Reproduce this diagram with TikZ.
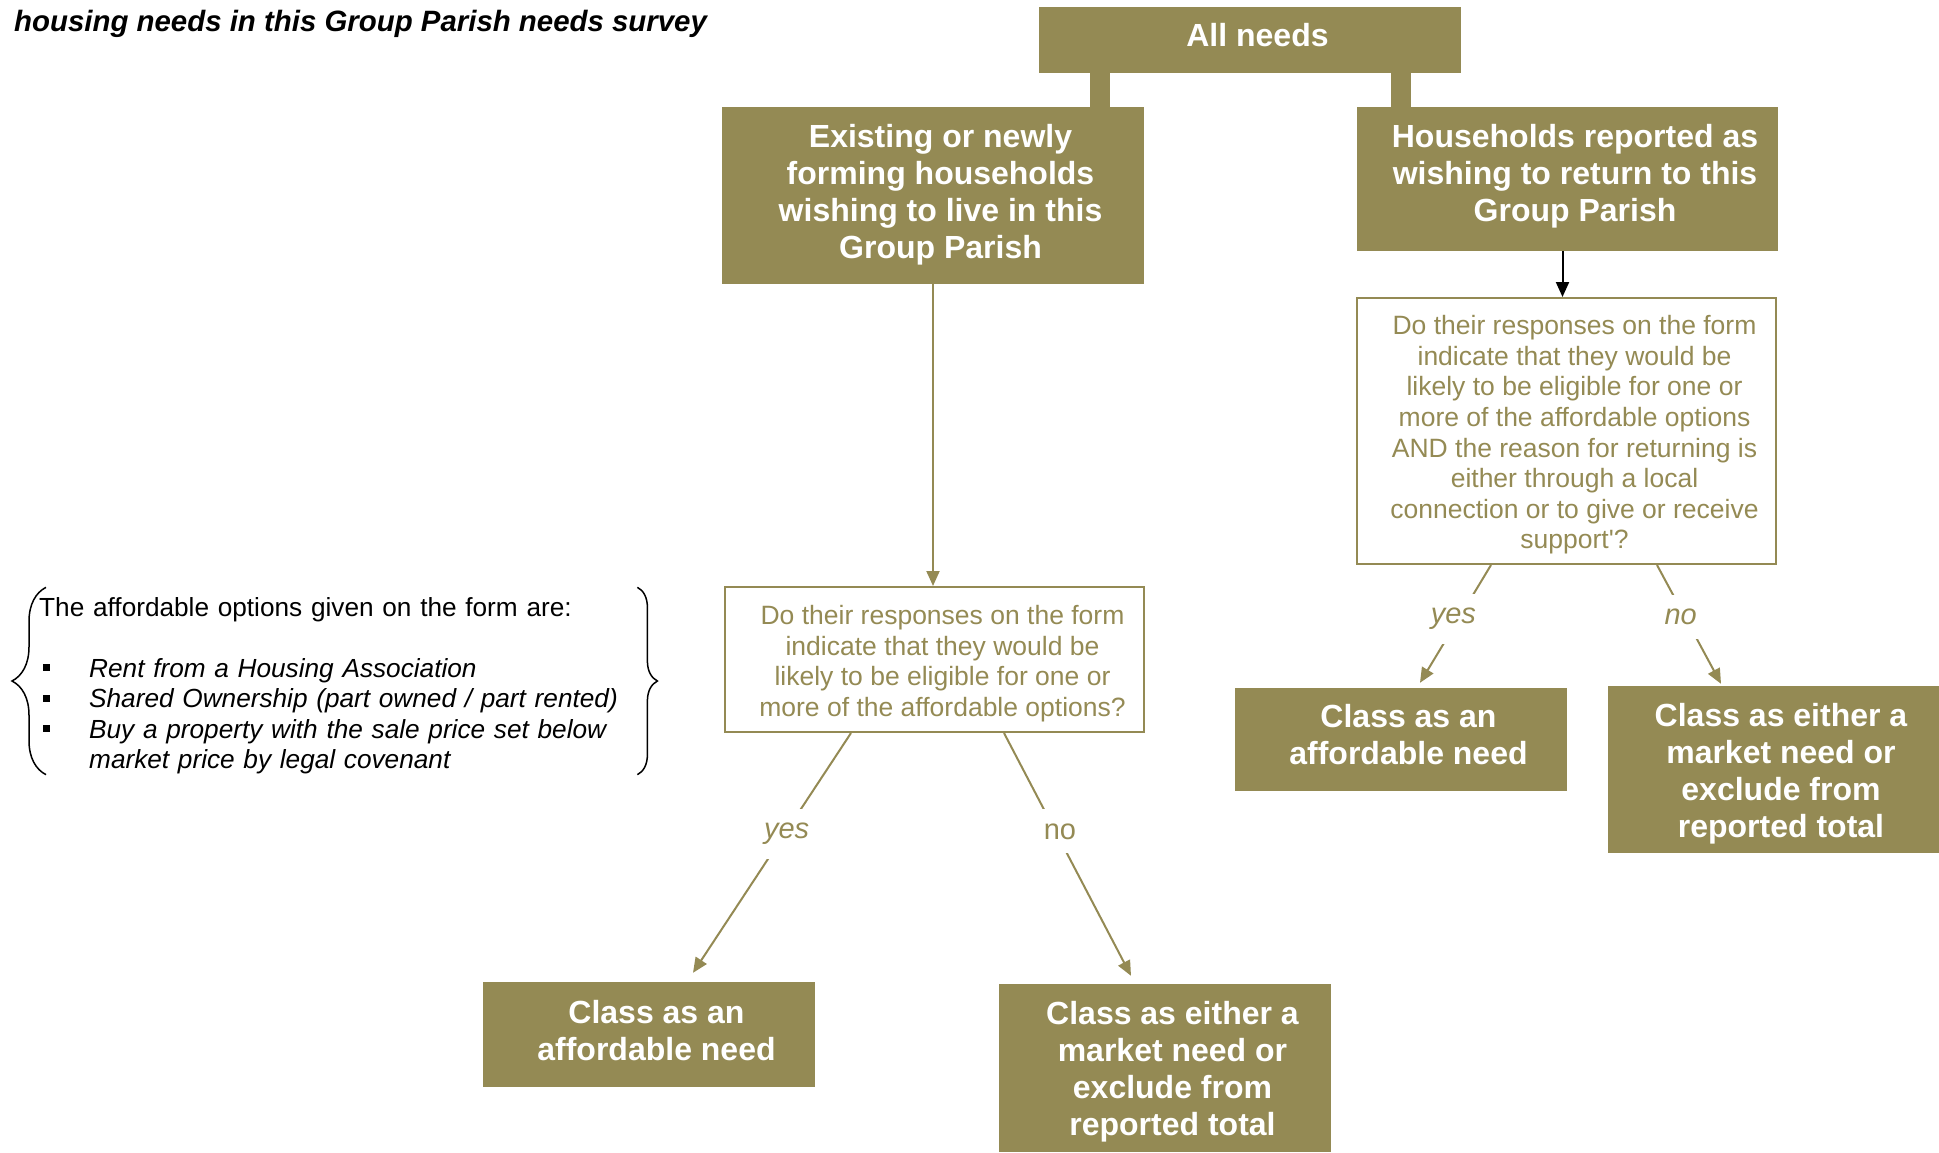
\documentclass[tikz,border=0pt]{standalone}
\usepackage{fontspec}
\setmainfont{Liberation Sans}
\usetikzlibrary{arrows.meta,decorations.pathreplacing}
\definecolor{needolive}{HTML}{948A54}
\newcommand\optmark{\hspace*{4pt}\makebox[46pt][l]{\rule[0.22em]{0.26em}{0.26em}}}

\begin{document}
\begin{tikzpicture}[x=1pt, y=-1pt,
    needbox/.style={fill=needolive, inner sep=0pt},
    needtext/.style={text=white, align=center, xshift=7.5pt, font=\bfseries\fontsize{32}{37}\selectfont},
    askbox/.style={draw=needolive, line width=2pt, inner sep=0pt},
    asktext/.style={text=needolive, align=center, xshift=8pt, yshift=-4pt, font=\fontsize{26.5}{30.6}\selectfont},
    link/.style={draw=needolive, line width=2pt, -{Triangle[length=15pt,width=13pt]}},
    answer/.style={fill=white, text=needolive, inner sep=14pt, font=\fontsize{29}{34}\selectfont#1},
    answer/.default={},
    stub/.style={draw=needolive, line width=20pt},
    curly/.style={decorate, decoration={brace, amplitude=#1}, line width=1.5pt}]
  \useasboundingbox (0,0) rectangle (1939,1152);

  \node[anchor=base west, inner sep=0pt, font=\bfseries\itshape\fontsize{29.4}{34}\selectfont] (title) at (14,31)
    {housing needs in this Group Parish needs survey};

  % top of the tree
  \node[needbox, minimum width=422pt, minimum height=66pt,
    label={[needtext, yshift=5pt]center:All needs}] (allneeds) at (1250,40) {};
  \node[needbox, minimum width=422pt, minimum height=177pt,
    label={[needtext, yshift=1pt]center:{Existing or newly\\forming households\\wishing to live in this\\Group Parish}}] (existing) at (933,195.5) {};
  \node[needbox, minimum width=421pt, minimum height=144pt,
    label={[needtext, yshift=3pt]center:{Households reported as\\wishing to return to this\\Group Parish}}] (returning) at (1567.5,179) {};
  \coordinate (stubL) at ([xshift=-44pt]existing.north east);
  \coordinate (stubR) at ([xshift=44pt]returning.north west);
  \draw[stub] (stubL) -- (stubL |- allneeds.south);
  \draw[stub] (stubR) -- (stubR |- allneeds.south);

  % questions
  \node[askbox, minimum width=419pt, minimum height=145pt,
    label={[asktext]center:{Do their responses on the form\\indicate that they would be\\likely to be eligible for one or\\more of the affordable options?}}] (ask1) at (934.5,659.5) {};
  \node[askbox, minimum width=419pt, minimum height=266pt,
    label={[asktext]center:{Do their responses on the form\\indicate that they would be\\likely to be eligible for one or\\more of the affordable options\\AND the reason for returning is\\either through a local\\connection or to give or receive\\support\textquotesingle?}}] (ask2) at (1566.5,431) {};
  \draw[link] (existing.south) -- (existing.south |- ask1.north);
  \draw[link, draw=black] ([xshift=-5pt]returning.south) -- ([xshift=-5pt]returning.south |- ask2.north);

  % outcomes
  \node[needbox, minimum width=332pt, minimum height=105pt,
    label={[needtext, yshift=4pt]center:{Class as an\\affordable need}}] (afford1) at (649,1034.5) {};
  \node[needbox, minimum width=332pt, minimum height=168pt,
    label={[needtext, yshift=-4pt]center:{Class as either a\\market need or\\exclude from\\reported total}}] (market1) at (1165,1068) {};
  \node[needbox, minimum width=332pt, minimum height=103pt,
    label={[needtext, yshift=5pt]center:{Class as an\\affordable need}}] (afford2) at (1401,739.5) {};
  \node[needbox, minimum width=331pt, minimum height=167pt,
    label={[needtext, yshift=-4pt]center:{Class as either a\\market need or\\exclude from\\reported total}}] (market2) at (1773.5,769.5) {};

  \draw[link] ([xshift=-83.5pt]ask1.south) -- node[answer=\itshape, pos=.42, xshift=2pt] {yes} ([xshift=44pt,yshift=9pt]afford1.north);
  \draw[link] ([xshift=69.5pt]ask1.south) -- node[answer, pos=.405, xshift=4.5pt] {no} ([xshift=-34pt,yshift=8pt]market1.north);
  \draw[link] ([xshift=-75.5pt]ask2.south) -- node[answer=\itshape, pos=.46, xshift=-5pt] {yes} ([xshift=19pt,yshift=5pt]afford2.north);
  \draw[link] ([xshift=90.5pt]ask2.south) -- node[answer=\itshape, pos=.44, xshift=-4.5pt] {no} ([xshift=-52.5pt,yshift=2pt]market2.north);

  % affordable options note
  \node[anchor=west, inner sep=0pt, text width=598pt, align=left, font=\fontsize{26.2}{30.5}\selectfont] (options) at (39,685.5)
    {The affordable options given on the form are:\\ \mbox{}\\
     \optmark\textit{Rent from a Housing Association}\\
     \optmark\textit{Shared Ownership (part owned / part rented)}\\
     \optmark\textit{Buy a property with the sale price set below}\\
     \hspace*{50pt}\textit{market price by legal covenant}};
  \draw[curly=34pt] ([xshift=7pt,yshift=-0.5pt]options.south west) -- ([xshift=7pt,yshift=9.5pt]options.north west);
  \draw[curly=20pt] ([yshift=9.5pt]options.north east) -- ([yshift=-0.5pt]options.south east);
\end{tikzpicture}
\end{document}
